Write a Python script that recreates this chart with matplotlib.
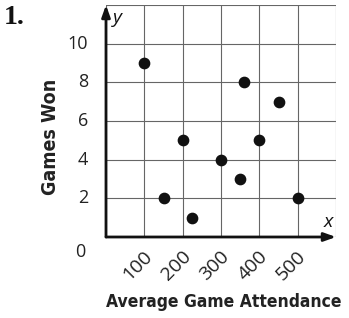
import matplotlib
matplotlib.use("Agg")
import matplotlib.pyplot as plt
from matplotlib.transforms import offset_copy, blended_transform_factory

# datos
asistencia = [100, 150, 200, 225, 300, 350, 360, 400, 450, 500]
ganados = [9, 2, 5, 1, 4, 3, 8, 5, 7, 2]

xticks = [100, 200, 300, 400, 500]
xlabels = ["100", "200", "300", "400", "500"]
yticks = [2, 4, 6, 8, 10]
ylabels = ["2", "4", "6", "8", "10"]

fig = plt.figure(figsize=(3.49, 3.18), dpi=100)
ax = fig.add_axes([106/349, 1-237/318, 230/349, 232/318])

ax.set_xlim(0, 600)
ax.set_ylim(0, 12)
ax.set_xticks(range(0, 601, 100))
ax.set_yticks(range(0, 13, 2))
ax.grid(True, color="#666666", linewidth=0.8)
ax.tick_params(length=0, labelbottom=False, labelleft=False)
for s in ax.spines.values():
    s.set_visible(False)

# ejes con flecha
ax.annotate("", xy=(600, 0), xytext=(0, 0), xycoords="data",
            arrowprops=dict(arrowstyle="-|>,head_length=0.7,head_width=0.25", color="#111111", lw=2, shrinkA=0, shrinkB=0),
            annotation_clip=False)
ax.annotate("", xy=(0, 12), xytext=(0, 0), xycoords="data",
            arrowprops=dict(arrowstyle="-|>,head_length=0.7,head_width=0.25", color="#111111", lw=2, shrinkA=0, shrinkB=0),
            annotation_clip=False)

ax.scatter(asistencia, ganados, s=55, color="#111111", zorder=5, clip_on=False)

fuente = ["Open Sans", "DejaVu Sans"]

tr_y = blended_transform_factory(ax.transAxes, ax.transData)
tr_y = offset_copy(tr_y, fig=fig, x=-13, y=0, units="points")
for v, lab in zip(yticks, ylabels):
    ax.text(0, v, lab, transform=tr_y, ha="right", va="center", fontsize=13, color="#222222", family=fuente)
ax.text(0, 0, "0", transform=offset_copy(tr_y, fig=fig, x=-2, y=-11, units="points"),
        ha="right", va="center", fontsize=13, color="#222222", family=fuente)

tr_x = blended_transform_factory(ax.transData, ax.transAxes)
tr_x = offset_copy(tr_x, fig=fig, x=4, y=-12, units="points")
for v, lab in zip(xticks, xlabels):
    ax.text(v, 0, lab, transform=tr_x, ha="right", va="center", rotation=45,
            rotation_mode="anchor", fontsize=14, color="#222222", family=fuente)

ax.text(0.03, 0.945, "y", transform=ax.transAxes, ha="left", va="center", fontsize=14,
        style="italic", color="#111111", family=fuente)
ax.text(0.965, 0.065, "x", transform=ax.transAxes, ha="center", va="center", fontsize=14,
        style="italic", color="#111111", family=fuente)

fig.text(51/349, 1-137/318, "Games Won", rotation=90, ha="center", va="center",
         fontsize=14, fontweight="bold", fontstretch="condensed", color="#222222", family="DejaVu Sans")
fig.text(224/349, 1-302/318, "Average Game Attendance", ha="center", va="center",
         fontsize=12.5, fontweight="bold", fontstretch="condensed", color="#222222", family="DejaVu Sans")
fig.text(4/349, 1-17/318, "1.", ha="left", va="center", fontsize=20, fontweight="bold",
         color="#111111", family=["Liberation Serif", "DejaVu Serif"])

fig.savefig("out.png", dpi=100)
